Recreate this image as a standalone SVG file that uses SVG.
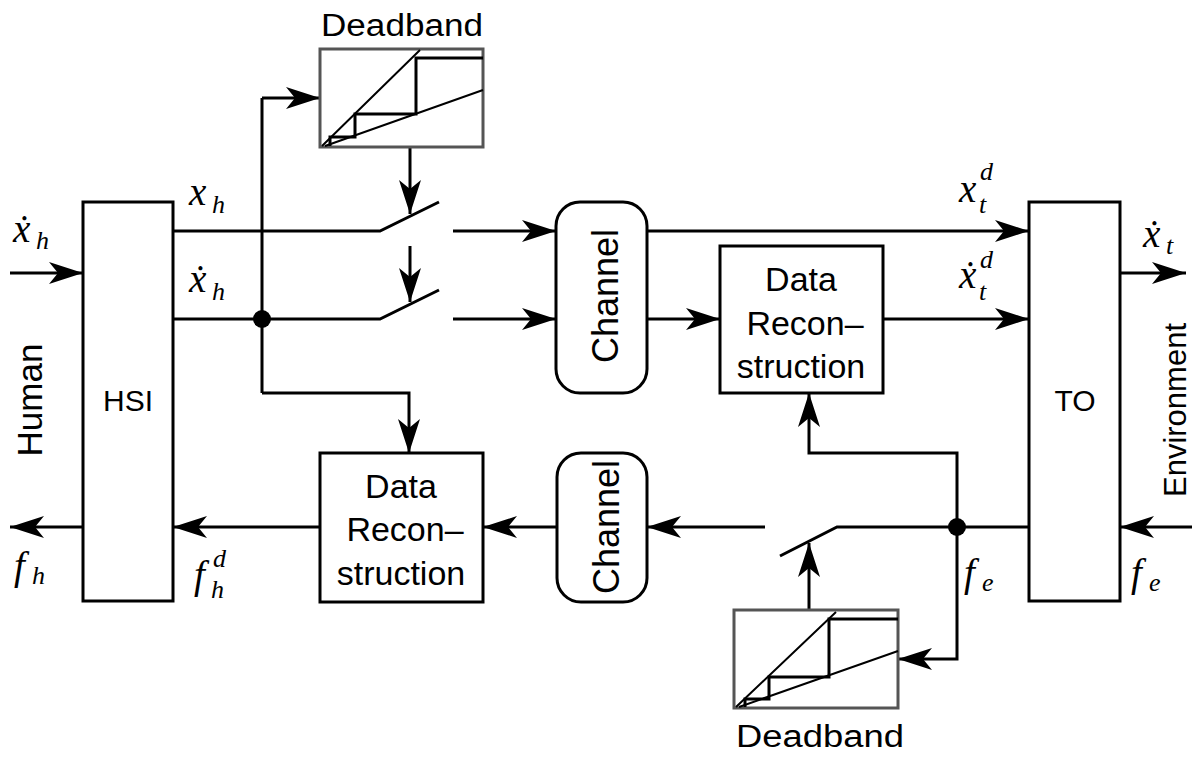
<svg xmlns="http://www.w3.org/2000/svg" width="1203" height="758" viewBox="0 0 1203 758">
<defs>
<marker id="ah" viewBox="-36 -12 38 24" refX="0" refY="0" markerWidth="38" markerHeight="24" markerUnits="userSpaceOnUse" orient="auto">
<path d="M0,0 L-34,-11 L-25,0 L-34,11 Z" fill="#000"/>
</marker>
<style>
.box{fill:#fff;stroke:#000;stroke-width:3}
.db{fill:#fff;stroke:#555;stroke-width:3}
.plot{fill:none;stroke:#000;stroke-width:2}
.stair{fill:none;stroke:#000;stroke-width:3}
.ln{fill:none;stroke:#000;stroke-width:3}
.arr{fill:none;stroke:#000;stroke-width:3;marker-end:url(#ah)}
.lbl{font-family:"Liberation Sans",Arial,sans-serif;font-size:34px;fill:#000;text-anchor:middle}
.math{font-family:"Liberation Serif","DejaVu Serif",serif;font-style:italic;font-size:39px;fill:#000}
.sub{font-size:26px}
</style>
</defs>

<g id="connectors">
<path class="arr" d="M10,273 H83"/>
<path class="arr" d="M83,527 H10"/>
<path class="ln" d="M173,231 H380 L439,202"/>
<path class="arr" d="M453,231 H556"/>
<path class="ln" d="M173,319 H380 L439,290"/>
<path class="arr" d="M453,319 H556"/>
<path class="ln" d="M262,98 V393"/>
<path class="arr" d="M262,98 H320"/>
<path class="arr" d="M262,393 H409 V453"/>
<path class="arr" d="M410,147 V214"/>
<path class="arr" d="M410,246 V302"/>
<path class="arr" d="M647,231 H1029"/>
<path class="arr" d="M647,319 H720"/>
<path class="arr" d="M883,319 H1029"/>
<path class="arr" d="M1120,273 H1186"/>
<path class="arr" d="M1192,527 H1120"/>
<path class="ln" d="M1029,527 H837 L780,556"/>
<path class="arr" d="M765,527 H647"/>
<path class="arr" d="M557,527 H483"/>
<path class="arr" d="M320,527 H173"/>
<path class="arr" d="M957,527 V659 H898"/>
<path class="arr" d="M957,527 V453 H809 V393"/>
<path class="arr" d="M809,610 V543"/>
<circle cx="262" cy="319" r="9" fill="#000"/>
<circle cx="957" cy="527" r="9" fill="#000"/>
</g>

<g id="human">
<text class="lbl" transform="translate(42,400) rotate(-90)" style="font-size:35px">Human</text>
</g>
<g id="hsi">
<rect class="box" x="83" y="202" width="90" height="399"/>
<text class="lbl" x="128" y="411" style="font-size:30px">HSI</text>
</g>
<g id="to">
<rect class="box" x="1029" y="202" width="91" height="399"/>
<text class="lbl" x="1075" y="411" style="font-size:30px">TO</text>
</g>
<g id="environment">
<text class="lbl" transform="translate(1186,410) rotate(-90)" style="font-size:31px">Environment</text>
</g>

<g id="deadband-top">
<text class="lbl" x="402" y="36" style="font-size:31px" textLength="162" lengthAdjust="spacingAndGlyphs">Deadband</text>
<rect class="db" x="320" y="49" width="163" height="98"/>
<path class="plot" d="M322,146 L420,50 M325,146 L483,90"/>
<path class="stair" d="M330,146 V137 H355 V114 H416 V58 H483"/>
</g>
<g id="deadband-bottom">
<rect class="db" x="734" y="610" width="164" height="98"/>
<path class="plot" d="M736,707 L836,612 M739,707 L898,651"/>
<path class="stair" d="M745,707 V699 H769 V677 H829 V619 H898"/>
<text class="lbl" x="820" y="747" style="font-size:31px" textLength="168" lengthAdjust="spacingAndGlyphs">Deadband</text>
</g>

<g id="channel-top">
<rect class="box" x="556" y="202" width="91" height="191" rx="24"/>
<text class="lbl" transform="translate(618,296) rotate(-90)" style="font-size:36px">Channel</text>
</g>
<g id="channel-bottom">
<rect class="box" x="557" y="453" width="90" height="149" rx="24"/>
<text class="lbl" transform="translate(619,527) rotate(-90)" style="font-size:36px">Channel</text>
</g>

<g id="data-reconstruction-top">
<rect class="box" x="720" y="246" width="163" height="147"/>
<text class="lbl" x="801" y="291">Data</text>
<text class="lbl" x="805" y="335">Recon–</text>
<text class="lbl" x="801" y="378">struction</text>
</g>
<g id="data-reconstruction-bottom">
<rect class="box" x="320" y="453" width="163" height="149"/>
<text class="lbl" x="401" y="498">Data</text>
<text class="lbl" x="405" y="541">Recon–</text>
<text class="lbl" x="401" y="585">struction</text>
</g>

<g id="labels">
<text class="math" x="13" y="242">x&#x307;<tspan class="sub" x="36" y="249">h</tspan></text>
<text class="math" x="189" y="205">x<tspan class="sub" x="212" y="213">h</tspan></text>
<text class="math" x="189" y="292">x&#x307;<tspan class="sub" x="212" y="300">h</tspan></text>
<text class="math" x="14" y="579">f<tspan class="sub" x="32" y="584">h</tspan></text>
<text class="math" x="194" y="588">f<tspan class="sub" x="213" y="567">d</tspan><tspan class="sub" x="211" y="598">h</tspan></text>
<text class="math" x="959" y="202">x<tspan class="sub" x="980" y="180">d</tspan><tspan class="sub" x="979" y="213">t</tspan></text>
<text class="math" x="959" y="288">x&#x307;<tspan class="sub" x="980" y="268">d</tspan><tspan class="sub" x="979" y="300">t</tspan></text>
<text class="math" x="1143" y="247">x&#x307;<tspan class="sub" x="1166" y="254">t</tspan></text>
<text class="math" x="964" y="586">f<tspan class="sub" x="982" y="591">e</tspan></text>
<text class="math" x="1131" y="586">f<tspan class="sub" x="1149" y="591">e</tspan></text>
</g>
</svg>
